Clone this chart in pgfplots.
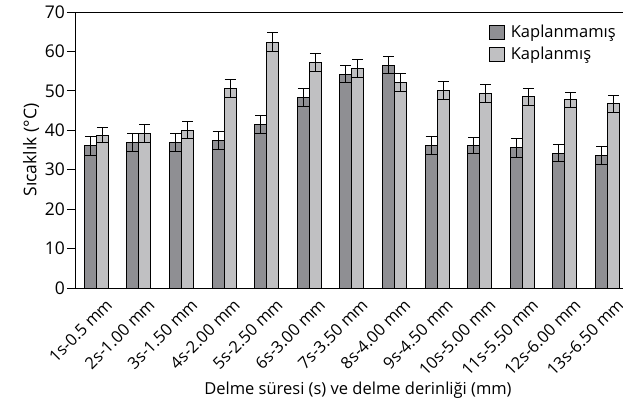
\documentclass[border=0pt]{standalone}
\usepackage{fontspec}
\setmainfont{Open Sans}
\usepackage{pgfplots}
\usepackage{pgfplotstable}
\pgfplotsset{compat=1.18}
\definecolor{darkbar}{HTML}{8F8F93}
\definecolor{lightbar}{HTML}{C0C0C2}
\pgfplotstableread{
x  dv    de   lv    le
0  36.1  2.4  38.8  2.0
1  37.0  2.3  39.2  2.2
2  37.0  2.3  40.0  2.2
3  37.4  2.2  50.5  2.3
4  41.5  2.2  62.3  2.4
5  48.3  2.2  57.2  2.3
6  54.2  2.2  55.6  2.3
7  56.5  2.2  52.2  2.3
8  36.1  2.3  50.2  2.3
9  36.1  2.1  49.4  2.3
10 35.6  2.4  48.5  2.1
11 34.2  2.1  47.8  1.9
12 33.6  2.3  46.7  2.2
}\data
\begin{document}
\fontsize{16.5}{19.5}\selectfont
\begin{tikzpicture}
\begin{axis}[
  scale only axis,
  width=548pt, height=276pt,
  xmin=-0.5, xmax=12.364,
  ymin=0, ymax=70,
  ytick={0,10,...,70},
  axis x line=box, axis y line=left,
  axis line style={-, line width=0.9pt, black},
  ybar=0pt, bar width=12pt,
  xtick={0,...,12},
  xticklabels={1s-0.5 mm,2s-1.00 mm,3s-1.50 mm,4s-2.00 mm,5s-2.50 mm,6s-3.00 mm,7s-3.50 mm,8s-4.00 mm,9s-4.50 mm,10s-5.00 mm,11s-5.50 mm,12s-6.00 mm,13s-6.50 mm},
  xtick style={draw=none},
  minor xtick={-0.5,0.5,...,11.5},
  minor tick length=8pt,
  major tick length=8pt,
  tick align=outside,
  tick style={black, line width=0.9pt},
  x tick label style={rotate=45, anchor=north east, inner sep=0pt, xshift=5pt, yshift=-7pt, font=\fontsize{16.5}{19.5}\selectfont},
  y tick label style={inner sep=2pt, font=\fontsize{17.5}{20}\selectfont},
  /pgf/number format/assume math mode=true,
  ylabel={Sıcaklık (°C)},
  ylabel style={yshift=-2pt, font=\fontsize{17.5}{20}\selectfont},
  xlabel={Delme süresi (s) ve delme derinliği (mm)},
  xlabel style={xshift=9pt, yshift=1pt},
  legend style={draw=none, fill=none, at={(0.755,0.96)}, anchor=north west, inner sep=0pt, row sep=3pt, font=\fontsize{16.5}{19.5}\selectfont},
  legend cell align=left,
  legend image code/.code={\draw[#1, draw=black, line width=0.9pt] (0pt,-7pt) rectangle (15pt,7pt); \path (19pt,0pt);},
  error bars/error bar style={black, line width=1pt},
  error bars/error mark options={rotate=90, mark size=5.5pt, line width=1pt, black},
]
\addplot[fill=darkbar, draw=black, line width=0.9pt,
  error bars/.cd, y dir=both, y explicit] table[x=x, y=dv, y error=de] {\data};
\addplot[fill=lightbar, draw=black, line width=0.9pt,
  error bars/.cd, y dir=both, y explicit] table[x=x, y=lv, y error=le] {\data};
\legend{Kaplanmamış, Kaplanmış}
\end{axis}
\pgfresetboundingbox
\useasboundingbox (-75pt,-116pt) rectangle (548pt,288pt);
\end{tikzpicture}
\end{document}
